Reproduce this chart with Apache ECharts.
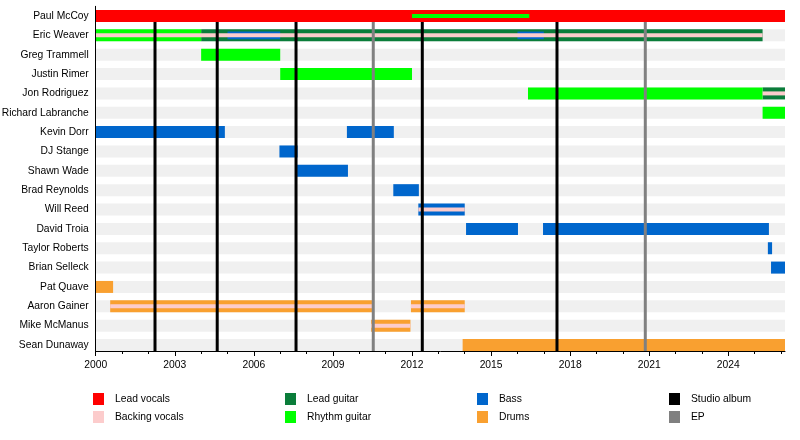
<!DOCTYPE html>
<html><head><meta charset="utf-8">
<script src="https://cdn.jsdelivr.net/npm/echarts@6/dist/echarts.min.js"></script>
<style>html,body{margin:0;padding:0;background:#fff}#c{width:800px;height:440px}</style>
</head><body><div id="c"></div>
<script>
const members = ['Paul McCoy','Eric Weaver','Greg Trammell','Justin Rimer','Jon Rodriguez','Richard Labranche','Kevin Dorr','DJ Stange','Shawn Wade','Brad Reynolds','Will Reed','David Troia','Taylor Roberts','Brian Selleck','Pat Quave','Aaron Gainer','Mike McManus','Sean Dunaway'];
const timelineStart = 2000;
const timelineEnd = 2026.15;
const yearLabels = [2000, 2003, 2006, 2009, 2012, 2015, 2018, 2021, 2024];
const yearTicks = [2000,2001,2002,2003,2004,2005,2006,2007,2008,2009,2010,2011,2012,2013,2014,2015,2016,2017,2018,2019,2020,2021,2022,2023,2024,2025,2026];
const studioAlbums = [2002.25, 2004.61, 2007.6, 2012.39, 2017.5];
const eps = [2010.53, 2020.85];

// [member, start, end, layer]  layer: 0 = full bar, 1 = middle, 2 = inner stripe
const leadVocals = [['Paul McCoy', 2000, 2026.15, 0]];
const leadGuitar = [['Eric Weaver', 2004.0, 2025.3, 0], ['Jon Rodriguez', 2025.3, 2026.15, 0]];
const rhythmGuitar = [['Paul McCoy', 2012.0, 2016.45, 2], ['Eric Weaver', 2000, 2004.0, 0], ['Greg Trammell', 2004.0, 2007.0, 0], ['Justin Rimer', 2007.0, 2012.0, 0], ['Jon Rodriguez', 2016.4, 2025.3, 0], ['Richard Labranche', 2025.3, 2026.15, 0]];
const bass = [['Eric Weaver', 2005.0, 2007.0, 1], ['Eric Weaver', 2016.0, 2017.0, 1], ['Kevin Dorr', 2000, 2004.9, 0], ['Kevin Dorr', 2009.53, 2011.31, 0], ['DJ Stange', 2006.97, 2007.66, 0], ['Shawn Wade', 2007.64, 2009.57, 0], ['Brad Reynolds', 2011.29, 2012.26, 0], ['Will Reed', 2012.24, 2014.0, 0], ['David Troia', 2014.05, 2016.02, 0], ['David Troia', 2016.97, 2025.54, 0], ['Taylor Roberts', 2025.5, 2025.66, 0], ['Brian Selleck', 2025.62, 2026.15, 0]];
const drums = [['Pat Quave', 2000, 2000.66, 0], ['Aaron Gainer', 2000.55, 2010.48, 0], ['Aaron Gainer', 2011.96, 2014.0, 0], ['Mike McManus', 2010.45, 2011.94, 0], ['Sean Dunaway', 2013.92, 2026.15, 0]];
const backingVocals = [['Eric Weaver', 2000, 2025.3, 2], ['Jon Rodriguez', 2025.3, 2026.15, 2], ['Will Reed', 2012.24, 2014.0, 2], ['Aaron Gainer', 2000.55, 2010.48, 2], ['Aaron Gainer', 2011.96, 2014.0, 2], ['Mike McManus', 2010.45, 2011.94, 2]];

const FONT = '"Liberation Sans", Arial, sans-serif';
const FS = 10.3;
const halfHeights = [6, 3.8, 2];

function toRows(list) { return list.map(d => [members.indexOf(d[0]), d[1], d[2], d[3]]); }

function spanRender(params, api) {
  const row = api.value(0);
  const a = api.coord([api.value(1), row]);
  const b = api.coord([api.value(2), row]);
  const h = halfHeights[api.value(3)];
  return { type: 'rect', shape: { x: a[0], y: a[1] - h, width: b[0] - a[0], height: 2 * h }, style: { fill: api.visual('color') } };
}
function eventRender(params, api) {
  const x = api.value(0);
  const top = api.coord([x, 0]);
  const bot = api.coord([x, members.length - 1]);
  return { type: 'rect', shape: { x: top[0] - 1.5, y: top[1] + 6, width: 3, height: bot[1] - top[1] }, style: { fill: api.visual('color') } };
}
function spanSeries(name, color, list) {
  return { name, type: 'custom', renderItem: spanRender, itemStyle: { color }, encode: { x: [1, 2], y: 0 }, data: toRows(list), silent: true };
}
function eventSeries(name, color, list) {
  return { name, type: 'custom', renderItem: eventRender, itemStyle: { color }, encode: { x: 0, y: 1 }, data: list.map(v => [v, 0]), silent: true, z: 5 };
}

const chart = echarts.init(document.getElementById('c'), null, { renderer: 'canvas' });
const legendBase = { orient: 'vertical', top: 393, itemWidth: 11, itemHeight: 12, itemGap: 6, padding: 0, icon: 'rect', selectedMode: false, textStyle: { fontSize: FS, color: '#000', fontFamily: FONT, padding: [0, 0, 0, 6] } };

chart.setOption({
  animation: false,
  textStyle: { fontFamily: FONT },
  grid: { left: 95.7, right: 15, top: 6.32, bottom: 85.32, containLabel: false, outerBoundsMode: 'none' },
  legend: [
    Object.assign({ left: 93, data: ['Lead vocals', 'Backing vocals'] }, legendBase),
    Object.assign({ left: 285, data: ['Lead guitar', 'Rhythm guitar'] }, legendBase),
    Object.assign({ left: 477, data: ['Bass', 'Drums'] }, legendBase),
    Object.assign({ left: 669, data: ['Studio album', 'EP'] }, legendBase)
  ],
  xAxis: [{
    type: 'value', min: timelineStart, max: timelineEnd, offset: -3.68, z: 10,
    axisLine: { show: true, lineStyle: { color: '#000', width: 1 } },
    axisTick: { show: true, length: 5, customValues: yearLabels, lineStyle: { color: '#000' } },
    axisLabel: { customValues: yearLabels, fontSize: FS, color: '#000', margin: 9, fontFamily: FONT, formatter: v => String(Math.round(v)) },
    splitLine: { show: false }
  }, {
    type: 'value', min: timelineStart, max: timelineEnd, position: 'bottom', offset: -3.68, z: 10,
    axisLine: { show: false },
    axisTick: { show: true, length: 3, customValues: yearTicks, lineStyle: { color: '#000' } },
    axisLabel: { show: false }, splitLine: { show: false }
  }],
  yAxis: {
    type: 'category', data: members, inverse: true, z: 10,
    axisLine: { show: true, lineStyle: { color: '#000', width: 1 } },
    axisTick: { show: false },
    axisLabel: { fontSize: FS, color: '#000', margin: 7, fontFamily: FONT },
    splitLine: { show: false }
  },
  series: [
    { type: 'custom', renderItem: spanRender, itemStyle: { color: '#f0f0f0' }, encode: { x: [1, 2], y: 0 }, data: members.map((m, i) => [i, timelineStart, timelineEnd, 0]), silent: true },
    spanSeries('Lead vocals', '#ff0000', leadVocals),
    spanSeries('Lead guitar', '#0a7d3a', leadGuitar),
    spanSeries('Rhythm guitar', '#00ff00', rhythmGuitar),
    spanSeries('Bass', '#0066cc', bass),
    spanSeries('Drums', '#f9a030', drums),
    spanSeries('Backing vocals', '#fccccc', backingVocals),
    eventSeries('Studio album', '#000000', studioAlbums),
    eventSeries('EP', '#808080', eps)
  ]
});
</script></body></html>
